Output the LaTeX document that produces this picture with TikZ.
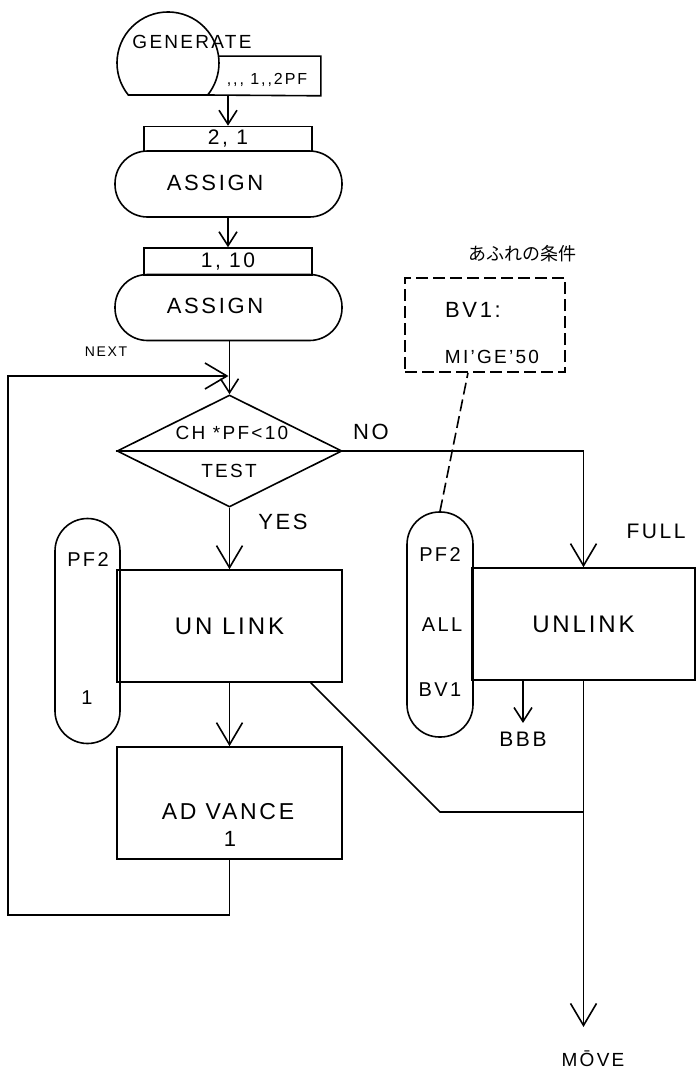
\documentclass[tikz,border=0pt]{standalone}
\usepackage{fontspec}
\setmainfont{Liberation Sans}
\newfontfamily\hand[LetterSpace=12]{Liberation Sans}
\newfontfamily\jpfont{Noto Sans CJK JP}
\usetikzlibrary{shapes.geometric, arrows.meta, positioning}
\newcommand{\handsz}[1]{\hand\fontsize{#1}{#1}\selectfont}

\begin{document}
\begin{tikzpicture}[
  x=1pt, y=-1pt, line width=1.6pt,
  blk/.style={draw, minimum width=225pt, minimum height=112pt, inner sep=0pt},
  card/.style={draw, minimum width=168pt, minimum height=25pt, inner sep=0pt, font=\handsz{21}},
  capsule/.style={draw, rounded corners=32.5pt, minimum width=227pt, minimum height=66pt, inner sep=0pt},
  pill/.style={draw, rounded corners=32.5pt, minimum width=65pt, minimum height=225pt, inner sep=0pt},
  lbl/.style={inner sep=0pt, font=\handsz{#1}},
  lbl/.default=20,
  arr/.style={-{Straight Barb[length=22pt, width=26pt, line width=1.6pt]}},
  arrs/.style={-{Straight Barb[length=14pt, width=18pt, line width=1.6pt]}}
]
\useasboundingbox (0,0) rectangle (699,1073);

% GENERATE
\draw (128.3,95) arc[start angle=141.1, end angle=398.9, radius=51] -- cycle;
\node[lbl=19] (gen) at (192,42) {GENERATE};
\node[inner sep=0pt, minimum width=101pt, minimum height=38pt] (genpar) at (269.5,76) {};
\draw (genpar.north west) -- (genpar.north east) -- (genpar.south east) -- (207.7,95);
\node[lbl=16] at (267,80) {,,, 1,,2PF};

% first ASSIGN
\node[card] (par21) at (228,139) {2, 1};
\node[capsule] (assign1) at (228.5,184) {};
\node[lbl=22] at (215,183) {ASSIGN};
\draw[arrs] (par21.north |- genpar.south) -- (par21.north);
\node[card, minimum height=27pt] (par110) at (228,261.5) {1, 10};
\node[capsule] (assign2) at (228.5,307.5) {};
\node[lbl=22] at (215,306) {ASSIGN};
\draw[arrs] (assign1.south -| par110.north) -- (par110.north);

% TEST
\node[draw, diamond, minimum width=225pt, minimum height=112pt, inner sep=0pt] (test) at (229.5,451) {};
\draw (test.west) -- (test.east);
\node[lbl=19] at (232,433) {CH *PF<10};
\node[lbl=19] at (229,471) {TEST};
\coordinate (merge) at (228.5,376);
\node[lbl=14] (next) at (106,352) {NEXT};
\draw[arrs] (assign2.south -| test.north) -- (test.north);

% YES side
\node[pill] (pfA) at (87.5,631) {};
\node[lbl] at (88,560) {PF2};
\node[lbl] at (87,698) {1};
\node[blk, font=\handsz{24}] (unlinkA) at (229.5,626) {UN LINK};
\node[blk] (advance) at (229.5,803) {};
\node[lbl=23] at (228,812) {AD VANCE};
\node[lbl=22] at (230,839) {1};
\node[lbl=22] (yes) at (283,522) {YES};
\draw[arr] (test.south) -- (unlinkA.north);
\draw[arr] (unlinkA.south) -- (advance.north);
\draw[arr] (advance.south) |- (8,915) -- (8,376) -- (merge);

% NO side
\node[lbl=22] (no) at (371,432) {NO};
\node[lbl=21] (full) at (656,531) {FULL};
\node[pill, minimum width=66pt] (pfB) at (440,624.5) {};
\node[lbl] at (440,555) {PF2};
\node[lbl] at (442,625) {ALL};
\node[lbl] at (440,690) {BV1};
\node[blk, font=\handsz{24}, minimum width=223pt] (unlinkB) at (583.5,624) {UNLINK};
\draw[arr] (test.east) -| (unlinkB.north);
\node[lbl=21] (bbb) at (523,739) {BBB};
\draw[arrs] (bbb.north |- unlinkB.south) -- ([yshift=8pt]bbb.north);

% overflow condition
\node[font=\jpfont\fontsize{18}{18}\selectfont, inner sep=0pt] (cond title) at (522,254) {あふれの条件};
\node[draw, dash pattern=on 12pt off 5pt, minimum width=160pt, minimum height=94pt, inner sep=0pt] (cond) at (485,325) {};
\node[lbl=22] at (473,310) {BV1:};
\node[lbl=19] at (492,357) {MI’GE’50};
\draw[dash pattern=on 12pt off 5pt] (pfB.north) -- ([xshift=-17pt]cond.south);

% to MOVE
\coordinate (join) at (unlinkB.south |- 0,812);
\draw ([xshift=-32pt]unlinkA.south east) -- (440,812) -- (join);
\node[lbl=19] (move) at (593,1059) {MŌVE};
\coordinate (tip) at (unlinkB.south |- 0,1027);
\draw[arr] (unlinkB.south) -- (tip);
\end{tikzpicture}
\end{document}
